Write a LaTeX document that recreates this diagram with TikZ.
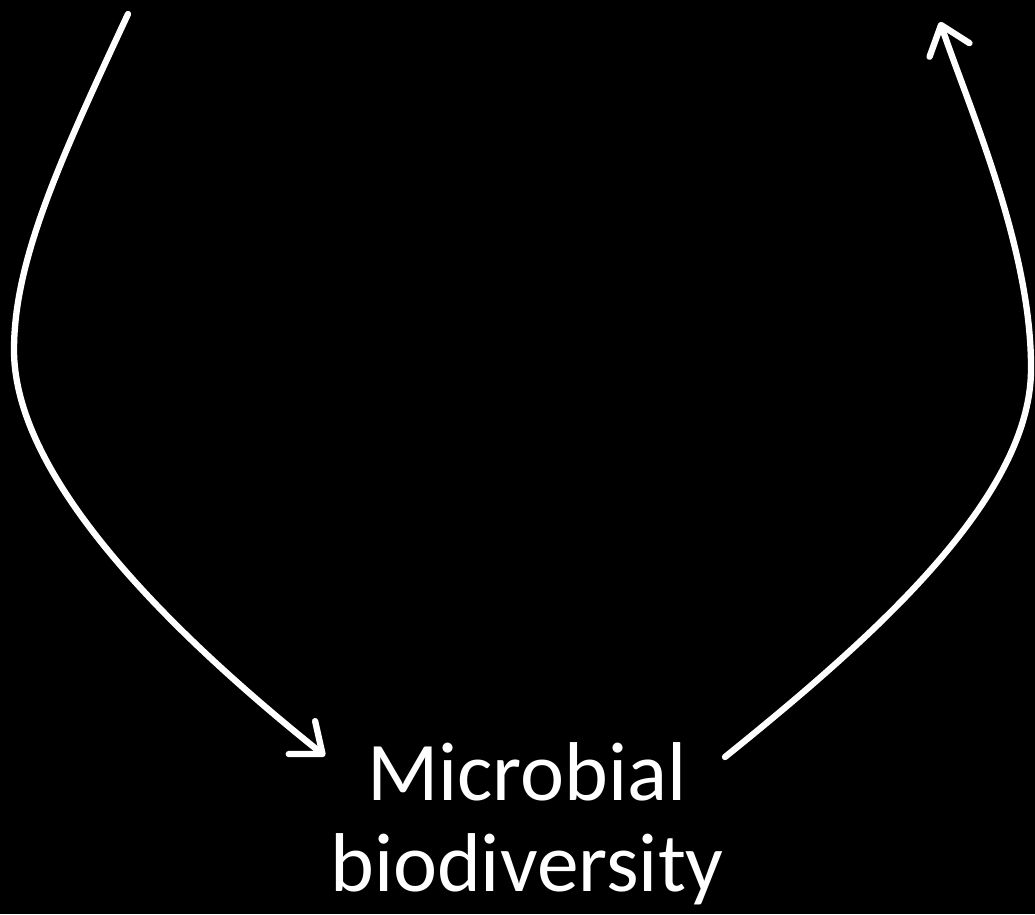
\documentclass[tikz,border=0pt]{standalone}
\usepackage{fontspec}
\setmainfont{Carlito}
\usetikzlibrary{arrows.meta}
\tikzset{
  every picture/.style={x=0.02cm,y=-0.02cm},
  loop/.style={draw=white,line width=3.6pt,line cap=round,
    -{Straight Barb[length=15pt,width=24pt,round]}},
  label/.style={text=white,align=center,font=\fontsize{47.5}{52}\selectfont},
}

\begin{document}
\begin{tikzpicture}
  \fill[black] (0,0) rectangle (1035,914);
  \useasboundingbox (0,0) rectangle (1035,914);
  \clip (0,0) rectangle (1035,914);
  \node[label] (micro) at (527,824) {Microbial\\biodiversity};
  \coordinate (inL) at (128,14);
  \coordinate (tipL) at (325,756);
  \coordinate (outR) at (725,757);
  \coordinate (tipR) at (940,22);
  % down into the text
  \draw[loop] (inL) .. controls (60,160) and (14,260) .. (14,350)
    .. controls (14,460) and (130,600) .. (tipL);
  % back up out of it
  \draw[loop] (outR) .. controls (870,640) and (1030,500) .. (1031,370)
    .. controls (1032,250) and (970,110) .. (tipR);
\end{tikzpicture}
\end{document}
